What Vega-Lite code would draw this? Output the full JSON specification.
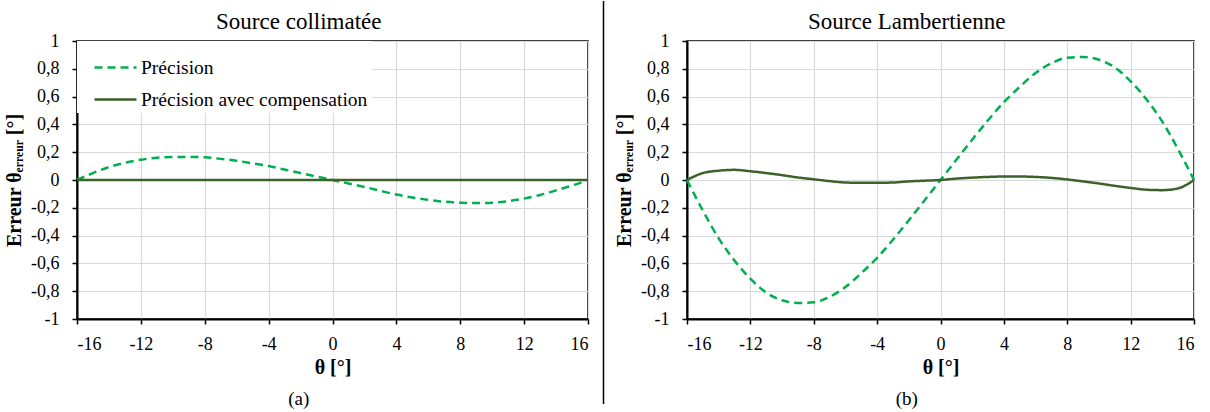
{
  "$schema": "https://vega.github.io/schema/vega-lite/v6.json",
  "background": "white",
  "padding": {"left": 3, "top": 0, "right": 0, "bottom": 0},
  "spacing": 8,
  "config": {
    "font": "Liberation Serif",
    "view": {"stroke": "black", "strokeWidth": 1.5},
    "style": {"guide-label": {"font": "Liberation Serif"}, "guide-title": {"font": "Liberation Serif"}},
    "axis": {
      "domainColor": "black", "domainWidth": 2,
      "tickColor": "black", "tickWidth": 1.5, "tickSize": 5,
      "gridColor": "#d9d9d9", "gridWidth": 1.2,
      "labelFont": "Liberation Serif", "labelFontSize": 18, "labelColor": "black",
      "titleFont": "Liberation Serif", "titleFontSize": 20, "titleFontWeight": "bold", "titleColor": "black"
    },
    "legend": {
      "orient": "top-left", "offset": 0, "padding": 4, "fillColor": "white",
      "labelFont": "Liberation Serif", "labelFontSize": 19.5, "labelColor": "black", "labelLimit": 0,
      "symbolType": "stroke", "symbolSize": 1764, "symbolStrokeWidth": 2.5, "symbolOffset": 12,
      "rowPadding": -10, "labelOffset": 3
    },
    "title": {"font": "Liberation Serif", "fontSize": 23, "fontWeight": "normal", "color": "black"}
  },
  "datasets": {
    "pa": [
      {"theta": -16, "erreur": 0, "serie": "Précision"},
      {"theta": -15, "erreur": 0.05, "serie": "Précision"},
      {"theta": -14, "erreur": 0.093, "serie": "Précision"},
      {"theta": -13, "erreur": 0.124, "serie": "Précision"},
      {"theta": -12, "erreur": 0.146, "serie": "Précision"},
      {"theta": -11, "erreur": 0.16, "serie": "Précision"},
      {"theta": -10, "erreur": 0.166, "serie": "Précision"},
      {"theta": -9, "erreur": 0.166, "serie": "Précision"},
      {"theta": -8, "erreur": 0.163, "serie": "Précision"},
      {"theta": -7, "erreur": 0.152, "serie": "Précision"},
      {"theta": -6, "erreur": 0.138, "serie": "Précision"},
      {"theta": -5, "erreur": 0.12, "serie": "Précision"},
      {"theta": -4, "erreur": 0.1, "serie": "Précision"},
      {"theta": -3, "erreur": 0.075, "serie": "Précision"},
      {"theta": -2, "erreur": 0.05, "serie": "Précision"},
      {"theta": -1, "erreur": 0.025, "serie": "Précision"},
      {"theta": 0, "erreur": 0, "serie": "Précision"},
      {"theta": 1, "erreur": -0.025, "serie": "Précision"},
      {"theta": 2, "erreur": -0.05, "serie": "Précision"},
      {"theta": 3, "erreur": -0.078, "serie": "Précision"},
      {"theta": 4, "erreur": -0.105, "serie": "Précision"},
      {"theta": 5, "erreur": -0.126, "serie": "Précision"},
      {"theta": 6, "erreur": -0.143, "serie": "Précision"},
      {"theta": 7, "erreur": -0.156, "serie": "Précision"},
      {"theta": 8, "erreur": -0.164, "serie": "Précision"},
      {"theta": 9, "erreur": -0.166, "serie": "Précision"},
      {"theta": 10, "erreur": -0.163, "serie": "Précision"},
      {"theta": 11, "erreur": -0.152, "serie": "Précision"},
      {"theta": 12, "erreur": -0.134, "serie": "Précision"},
      {"theta": 13, "erreur": -0.108, "serie": "Précision"},
      {"theta": 14, "erreur": -0.075, "serie": "Précision"},
      {"theta": 15, "erreur": -0.04, "serie": "Précision"},
      {"theta": 16, "erreur": 0, "serie": "Précision"},
      {"theta": -16, "erreur": 0, "serie": "Précision avec compensation"},
      {"theta": -12, "erreur": 0, "serie": "Précision avec compensation"},
      {"theta": -8, "erreur": 0, "serie": "Précision avec compensation"},
      {"theta": -4, "erreur": 0, "serie": "Précision avec compensation"},
      {"theta": 0, "erreur": 0, "serie": "Précision avec compensation"},
      {"theta": 4, "erreur": 0, "serie": "Précision avec compensation"},
      {"theta": 8, "erreur": 0, "serie": "Précision avec compensation"},
      {"theta": 12, "erreur": 0, "serie": "Précision avec compensation"},
      {"theta": 16, "erreur": 0, "serie": "Précision avec compensation"}
    ],
    "pb": [
      {"theta": -16, "erreur": 0, "serie": "Précision"},
      {"theta": -15, "erreur": -0.22, "serie": "Précision"},
      {"theta": -14, "erreur": -0.42, "serie": "Précision"},
      {"theta": -13, "erreur": -0.58, "serie": "Précision"},
      {"theta": -12, "erreur": -0.71, "serie": "Précision"},
      {"theta": -11, "erreur": -0.81, "serie": "Précision"},
      {"theta": -10, "erreur": -0.865, "serie": "Précision"},
      {"theta": -9, "erreur": -0.885, "serie": "Précision"},
      {"theta": -8, "erreur": -0.88, "serie": "Précision"},
      {"theta": -7, "erreur": -0.84, "serie": "Précision"},
      {"theta": -6, "erreur": -0.77, "serie": "Précision"},
      {"theta": -5, "erreur": -0.67, "serie": "Précision"},
      {"theta": -4, "erreur": -0.56, "serie": "Précision"},
      {"theta": -3, "erreur": -0.43, "serie": "Précision"},
      {"theta": -2, "erreur": -0.29, "serie": "Précision"},
      {"theta": -1, "erreur": -0.145, "serie": "Précision"},
      {"theta": 0, "erreur": 0, "serie": "Précision"},
      {"theta": 1, "erreur": 0.145, "serie": "Précision"},
      {"theta": 2, "erreur": 0.29, "serie": "Précision"},
      {"theta": 3, "erreur": 0.43, "serie": "Précision"},
      {"theta": 4, "erreur": 0.56, "serie": "Précision"},
      {"theta": 5, "erreur": 0.67, "serie": "Précision"},
      {"theta": 6, "erreur": 0.77, "serie": "Précision"},
      {"theta": 7, "erreur": 0.84, "serie": "Précision"},
      {"theta": 8, "erreur": 0.88, "serie": "Précision"},
      {"theta": 9, "erreur": 0.885, "serie": "Précision"},
      {"theta": 10, "erreur": 0.865, "serie": "Précision"},
      {"theta": 11, "erreur": 0.81, "serie": "Précision"},
      {"theta": 12, "erreur": 0.71, "serie": "Précision"},
      {"theta": 13, "erreur": 0.58, "serie": "Précision"},
      {"theta": 14, "erreur": 0.42, "serie": "Précision"},
      {"theta": 15, "erreur": 0.22, "serie": "Précision"},
      {"theta": 16, "erreur": 0, "serie": "Précision"},
      {"theta": -16, "erreur": 0, "serie": "Précision avec compensation"},
      {"theta": -15, "erreur": 0.05, "serie": "Précision avec compensation"},
      {"theta": -14, "erreur": 0.067, "serie": "Précision avec compensation"},
      {"theta": -13, "erreur": 0.073, "serie": "Précision avec compensation"},
      {"theta": -12, "erreur": 0.063, "serie": "Précision avec compensation"},
      {"theta": -11, "erreur": 0.05, "serie": "Précision avec compensation"},
      {"theta": -10, "erreur": 0.035, "serie": "Précision avec compensation"},
      {"theta": -9, "erreur": 0.018, "serie": "Précision avec compensation"},
      {"theta": -8, "erreur": 0.005, "serie": "Précision avec compensation"},
      {"theta": -7, "erreur": -0.008, "serie": "Précision avec compensation"},
      {"theta": -6, "erreur": -0.018, "serie": "Précision avec compensation"},
      {"theta": -5, "erreur": -0.02, "serie": "Précision avec compensation"},
      {"theta": -4, "erreur": -0.02, "serie": "Précision avec compensation"},
      {"theta": -3, "erreur": -0.018, "serie": "Précision avec compensation"},
      {"theta": -2, "erreur": -0.01, "serie": "Précision avec compensation"},
      {"theta": -1, "erreur": -0.005, "serie": "Précision avec compensation"},
      {"theta": 0, "erreur": 0, "serie": "Précision avec compensation"},
      {"theta": 1, "erreur": 0.01, "serie": "Précision avec compensation"},
      {"theta": 2, "erreur": 0.017, "serie": "Précision avec compensation"},
      {"theta": 3, "erreur": 0.022, "serie": "Précision avec compensation"},
      {"theta": 4, "erreur": 0.025, "serie": "Précision avec compensation"},
      {"theta": 5, "erreur": 0.025, "serie": "Précision avec compensation"},
      {"theta": 6, "erreur": 0.022, "serie": "Précision avec compensation"},
      {"theta": 7, "erreur": 0.015, "serie": "Précision avec compensation"},
      {"theta": 8, "erreur": 0.004, "serie": "Précision avec compensation"},
      {"theta": 9, "erreur": -0.01, "serie": "Précision avec compensation"},
      {"theta": 10, "erreur": -0.025, "serie": "Précision avec compensation"},
      {"theta": 11, "erreur": -0.042, "serie": "Précision avec compensation"},
      {"theta": 12, "erreur": -0.057, "serie": "Précision avec compensation"},
      {"theta": 13, "erreur": -0.07, "serie": "Précision avec compensation"},
      {"theta": 14, "erreur": -0.073, "serie": "Précision avec compensation"},
      {"theta": 15, "erreur": -0.06, "serie": "Précision avec compensation"},
      {"theta": 16, "erreur": 0, "serie": "Précision avec compensation"}
    ],
    "sep": [{"y1": -0.306, "y2": 1.144}]
  },
  "hconcat": [
    {
      "title": {"text": "(a)", "orient": "bottom", "frame": "bounds", "anchor": "middle", "fontSize": 19, "offset": 12},
      "vconcat": [
        {
          "title": {"text": "Source collimatée", "frame": "bounds", "anchor": "middle", "offset": -2},
          "width": 511, "height": 278,
          "data": {"name": "pa"},
          "mark": {"type": "line", "strokeWidth": 2.5, "interpolate": "monotone"},
          "encoding": {
            "x": {"field": "theta", "type": "quantitative", "scale": {"domain": [-16, 16], "nice": false},
                  "axis": {"title": "θ [°]", "values": [-16, -12, -8, -4, 0, 4, 8, 12, 16], "labelPadding": 11, "titlePadding": 4,
                           "labelFont": "Liberation Serif", "titleFont": "Liberation Serif",
                           "labelExpr": "replace(datum.label, '−', '-')"}},
            "y": {"field": "erreur", "type": "quantitative", "scale": {"domain": [-1, 1], "nice": false},
                  "axis": {"title": "Erreur θₑᵣᵣₑᵤᵣ [°]", "values": [-1, -0.8, -0.6, -0.4, -0.2, 0, 0.2, 0.4, 0.6, 0.8, 1], "format": "~g",
                           "labelPadding": 13, "titlePadding": 6,
                           "labelFont": "Liberation Serif", "titleFont": "Liberation Serif",
                           "labelExpr": "replace(replace(datum.label, '−', '-'), '.', ',')"}},
            "color": {"field": "serie", "type": "nominal",
                      "scale": {"domain": ["Précision", "Précision avec compensation"], "range": ["#00B050", "#3B6329"]},
                      "legend": {"title": null, "labelFont": "Liberation Serif"}},
            "strokeDash": {"field": "serie", "type": "nominal",
                      "scale": {"domain": ["Précision", "Précision avec compensation"], "range": [[8, 5], [1, 0]]},
                      "legend": {"title": null, "labelFont": "Liberation Serif"}}
          }
        }
      ]
    },
    {
      "vconcat": [
        {
          "width": 1, "height": 278,
          "view": {"stroke": null},
          "data": {"name": "sep"},
          "mark": {"type": "rule", "color": "black", "strokeWidth": 1.5},
          "encoding": {
            "y": {"field": "y1", "type": "quantitative", "scale": {"domain": [0, 1], "nice": false, "zero": false}, "axis": null},
            "y2": {"field": "y2"}
          }
        }
      ]
    },
    {
      "title": {"text": "(b)", "orient": "bottom", "frame": "bounds", "anchor": "middle", "fontSize": 19, "offset": 12},
      "vconcat": [
        {
          "title": {"text": "Source Lambertienne", "frame": "bounds", "anchor": "middle", "offset": -2},
          "width": 507, "height": 278,
          "data": {"name": "pb"},
          "mark": {"type": "line", "strokeWidth": 2.5, "interpolate": "monotone"},
          "encoding": {
            "x": {"field": "theta", "type": "quantitative", "scale": {"domain": [-16, 16], "nice": false},
                  "axis": {"title": "θ [°]", "values": [-16, -12, -8, -4, 0, 4, 8, 12, 16], "labelPadding": 11, "titlePadding": 4,
                           "labelFont": "Liberation Serif", "titleFont": "Liberation Serif",
                           "labelExpr": "replace(datum.label, '−', '-')"}},
            "y": {"field": "erreur", "type": "quantitative", "scale": {"domain": [-1, 1], "nice": false},
                  "axis": {"title": "Erreur θₑᵣᵣₑᵤᵣ [°]", "values": [-1, -0.8, -0.6, -0.4, -0.2, 0, 0.2, 0.4, 0.6, 0.8, 1], "format": "~g",
                           "labelPadding": 13, "titlePadding": 6,
                           "labelFont": "Liberation Serif", "titleFont": "Liberation Serif",
                           "labelExpr": "replace(replace(datum.label, '−', '-'), '.', ',')"}},
            "color": {"field": "serie", "type": "nominal",
                      "scale": {"domain": ["Précision", "Précision avec compensation"], "range": ["#00B050", "#3B6329"]},
                      "legend": {"title": null, "labelFont": "Liberation Serif"}},
            "strokeDash": {"field": "serie", "type": "nominal",
                      "scale": {"domain": ["Précision", "Précision avec compensation"], "range": [[8, 5], [1, 0]]},
                      "legend": {"title": null, "labelFont": "Liberation Serif"}}
          }
        }
      ]
    }
  ]
}
